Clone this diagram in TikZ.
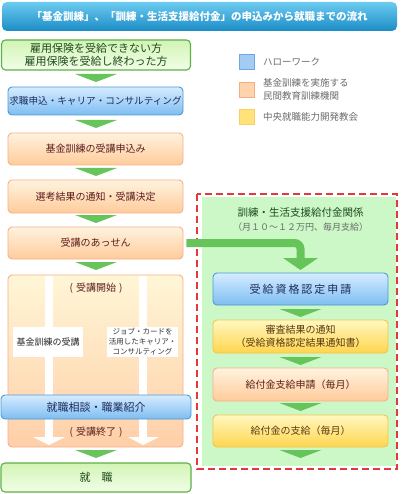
\documentclass[tikz,border=0pt]{standalone}
\usepackage{fontspec}
\setmainfont{Noto Sans CJK JP}
\usetikzlibrary{positioning}
\definecolor{titleA}{HTML}{6CCBF0}
\definecolor{titleB}{HTML}{1B8CC6}
\definecolor{oTop}{HTML}{FFF3DF}
\definecolor{oBot}{HTML}{FFCB9A}
\definecolor{oLine}{HTML}{F6B08A}
\definecolor{oText}{HTML}{5C1E1E}
\definecolor{bTop}{HTML}{D6ECFF}
\definecolor{bBot}{HTML}{7DBDF2}
\definecolor{bLine}{HTML}{4E98D2}
\definecolor{bText}{HTML}{1C2C5C}
\definecolor{yTop}{HTML}{FFF8C0}
\definecolor{yBot}{HTML}{FFD54E}
\definecolor{yLine}{HTML}{F4C44A}
\definecolor{yText}{HTML}{5A3A12}
\definecolor{gTop}{HTML}{D2F4B4}
\definecolor{gBot}{HTML}{F2FEE8}
\definecolor{gLine}{HTML}{5DB04A}
\definecolor{gText}{HTML}{1E4A1E}
\definecolor{arrowG}{HTML}{66C45A}
\definecolor{areaG}{HTML}{CCF8C8}
\definecolor{dashR}{HTML}{E23A3A}
\definecolor{legText}{HTML}{6A6A6A}
\definecolor{bigTop}{HTML}{FFF6D6}
\definecolor{bigBot}{HTML}{FFCFA8}
\definecolor{legB}{HTML}{A2CCF4}
\definecolor{legBl}{HTML}{6FA8DE}
\definecolor{legO}{HTML}{FFD3AC}
\definecolor{legOl}{HTML}{F3AE84}
\definecolor{legY}{HTML}{FFE27A}
\definecolor{legYl}{HTML}{F6D060}
\tikzset{
  box/.style={rounded corners=4pt, line width=0.9pt, inner sep=0pt, align=center, font=\fontsize{10}{12}\selectfont},
  obox/.style={box, draw=oLine, top color=oTop, bottom color=oBot, text=oText},
  bbox/.style={box, draw=bLine, top color=bTop, bottom color=bBot, text=bText},
  ybox/.style={box, draw=yLine, top color=yTop, bottom color=yBot, text=yText},
  gbox/.style={box, draw=gLine, line width=1.1pt, top color=gTop, bottom color=gBot, text=gText},
  legsq/.style={line width=0.7pt, minimum size=15pt, inner sep=0pt},
  legtx/.style={anchor=west, text=legText, align=left, font=\fontsize{9.5}{12.5}\selectfont, inner sep=0pt},
  lbl/.style={fill=white, inner sep=0pt, align=center},
}
\newcommand{\gtri}[3]{\fill[arrowG] (#1-21,#2) -- (#1+21,#2) -- (#1,#2+#3) -- cycle;}
\begin{document}
\begin{tikzpicture}[x=1pt,y=-1pt]
\useasboundingbox (0,0) rectangle (400,494);
% title bar
\node[rounded corners=5pt, top color=titleA, bottom color=titleB, minimum width=395pt, minimum height=29pt, inner sep=0pt, text=white, font=\fontsize{10.5}{12}\selectfont\bfseries] (title) at (199.5,16.5) {「基金訓練」、「訓練・生活支援給付金」の申込みから就職までの流れ};
% legend
\node[legsq, draw=legBl, fill=legB] (l1) at (247,62) {};
\node[legtx, right=8pt of l1] (l1t) {ハローワーク};
\node[legsq, draw=legOl, fill=legO] (l2) at (247,89.5) {};
\node[legtx, right=8pt of l2] (l2t) {基金訓練を実施する\\民間教育訓練機関};
\node[legsq, draw=legYl, fill=legY] (l3) at (247,117) {};
\node[legtx, right=8pt of l3] (l3t) {中央就職能力開発教会};
% left flow
\node[gbox, minimum width=189pt, minimum height=30pt, font=\fontsize{11}{13}\selectfont] (b1) at (96,55) {雇用保険を受給できない方\\雇用保険を受給し終わった方};
\gtri{96}{74}{8}
\node[bbox, minimum width=175pt, minimum height=28pt, font=\fontsize{9.6}{12}\selectfont] (b2) at (95.5,101) {求職申込・キャリア・コンサルティング};
\gtri{96}{120}{8}
\node[obox, minimum width=175pt, minimum height=32pt] (b3) at (95.5,149) {基金訓練の受講申込み};
\gtri{96}{168}{8}
\node[obox, minimum width=175pt, minimum height=33pt] (b4) at (95.5,196.5) {選考結果の通知・受講決定};
\gtri{96}{215}{8}
\node[obox, minimum width=175pt, minimum height=32pt] (b5) at (95.5,243) {受講のあっせん};
\gtri{96}{262}{8}
% big training box
\node[box, draw=oLine, top color=bigTop, bottom color=bigBot, minimum width=175pt, minimum height=172pt] (big) at (95.5,361) {};
\node[text=oText, font=\fontsize{10}{12}\selectfont, inner sep=0pt] (start) at (96,288) {(\hspace{0.3em}受講開始\hspace{0.3em})};
\fill[white] (45,276) rectangle (53,437);
\fill[white] (33,437) -- (65,437) -- (49,445) -- cycle;
\fill[white] (139,276) rectangle (147,437);
\fill[white] (128,437) -- (159,437) -- (143,445) -- cycle;
\node[lbl, minimum width=70pt, minimum height=30pt, font=\fontsize{9}{11}\selectfont, text=black!85] (k1) at (48,342) {基金訓練の受講};
\node[lbl, minimum width=71pt, minimum height=30pt, font=\fontsize{7.5}{10}\selectfont, text=black!80] (k2) at (142.5,342) {ジョブ・カードを\\活用したキャリア・\\コンサルティング};
\node[bbox, minimum width=190pt, minimum height=24pt, font=\fontsize{11}{13}\selectfont] (b6) at (96,407) {就職相談・職業紹介};
\node[text=oText, font=\fontsize{10}{12}\selectfont, inner sep=0pt] (end) at (96,432) {(\hspace{0.3em}受講終了\hspace{0.3em})};
\gtri{96}{450}{8}
\node[gbox, minimum width=190pt, minimum height=29pt, font=\fontsize{11}{13}\selectfont] (b7) at (96,477.5) {就\hspace{1em}職};
% right area
\fill[areaG] (202,197) rectangle (396,466);
\draw[dashR, line width=1.3pt, dash pattern=on 7pt off 4pt] (197,194) rectangle (397,469);
\node[text=gText, font=\fontsize{10.5}{12}\selectfont, inner sep=0pt] (rt) at (300.5,213) {訓練・生活支援給付金関係};
\node[text=legText, font=\fontsize{9}{11}\selectfont, inner sep=0pt] (rs) at (300.5,227) {（月１０～１２万円、毎月支給）};
\node[bbox, minimum width=175pt, minimum height=32pt, font=\fontsize{11}{13}\selectfont\addfontfeatures{LetterSpace=18}] (r1) at (300.5,289) {受給資格認定申請};
\gtri{300.5}{309}{8}
\node[ybox, minimum width=175pt, minimum height=33pt, font=\fontsize{10}{12.5}\selectfont] (r2) at (300.5,336.5) {審査結果の通知\\（受給資格認定結果通知書）};
\gtri{300.5}{357}{8}
\node[obox, minimum width=175pt, minimum height=33pt] (r3) at (300.5,384.5) {給付金支給申請（毎月）};
\gtri{300.5}{403}{8}
\node[ybox, minimum width=175pt, minimum height=32pt] (r4) at (300.5,431) {給付金の支給（毎月）};
\gtri{300.5}{450}{8}
% connector
\coordinate (cA) at ([xshift=3pt]b5.east);
\coordinate (cB) at (300.5,258);
\draw[arrowG, line width=8pt, rounded corners=6pt] (cA) -| (cB);
\fill[arrowG] (283,258) -- (318,258) -- (300.5,270) -- cycle;
\end{tikzpicture}
\end{document}
